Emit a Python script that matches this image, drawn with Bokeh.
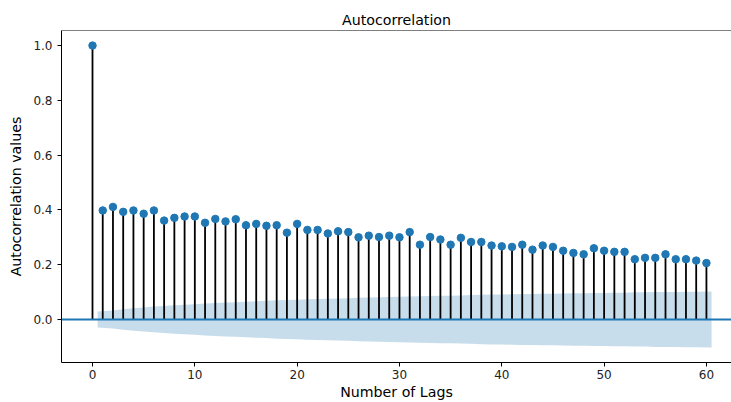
from bokeh.plotting import figure
from bokeh.models import Range1d, FixedTicker, Span, ColumnDataSource, PrintfTickFormatter
from bokeh.embed import file_html
from bokeh.resources import INLINE

# ---- data ----
lags = list(range(0, 61))
acf_values = [
    1.000, 0.398, 0.411, 0.393, 0.398, 0.386, 0.398, 0.361, 0.371, 0.376,
    0.376, 0.353, 0.367, 0.358, 0.366, 0.344, 0.349, 0.342, 0.344, 0.317,
    0.349, 0.327, 0.327, 0.314, 0.322, 0.319, 0.300, 0.306, 0.301, 0.306,
    0.300, 0.319, 0.273, 0.301, 0.292, 0.273, 0.298, 0.283, 0.283, 0.270,
    0.267, 0.265, 0.273, 0.255, 0.270, 0.265, 0.251, 0.243, 0.238, 0.260,
    0.251, 0.247, 0.247, 0.220, 0.225, 0.225, 0.238, 0.220, 0.220, 0.215,
    0.206,
]
# half-width of the confidence band for lags 1..60
conf_halfwidth = [
    0.029, 0.033, 0.037, 0.041, 0.044, 0.047, 0.049, 0.052, 0.054, 0.056,
    0.058, 0.060, 0.062, 0.063, 0.065, 0.067, 0.068, 0.070, 0.071, 0.072,
    0.074, 0.075, 0.076, 0.077, 0.078, 0.079, 0.080, 0.081, 0.082, 0.083,
    0.084, 0.085, 0.086, 0.087, 0.087, 0.088, 0.089, 0.090, 0.091, 0.091,
    0.092, 0.093, 0.093, 0.094, 0.094, 0.095, 0.096, 0.096, 0.097, 0.097,
    0.098, 0.098, 0.099, 0.099, 0.100, 0.100, 0.100, 0.101, 0.101, 0.102,
]
x_ticks = [0, 10, 20, 30, 40, 50, 60]
y_ticks = [0.0, 0.2, 0.4, 0.6, 0.8, 1.0]

title_text = "Autocorrelation"
x_label = "Number of Lags"
y_label = "Autocorrelation values"

# ---- styling ----
BLUE = "#1f77b4"
FONT = "DejaVu Sans"
Y_START, Y_END = -0.157, 1.055
X_START, X_END = -3.03, 62.45

band_x = [float(v) for v in lags[1:]]
band_x[0] -= 0.5
band_x[-1] += 0.5
band_src = ColumnDataSource(dict(
    x=band_x,
    lo=[-v for v in conf_halfwidth],
    hi=list(conf_halfwidth),
))
stem_src = ColumnDataSource(dict(x=lags, y0=[0.0] * len(lags), y=acf_values))

p = figure(width=731, height=402, output_backend="svg", toolbar_location=None,
           x_range=Range1d(X_START, X_END), y_range=Range1d(Y_START, Y_END),
           min_border_left=61, min_border_right=0, min_border_top=30,
           min_border_bottom=40)

p.title.text = title_text
p.title.align = "center"
p.title.text_font = FONT
p.title.text_font_size = "14.2px"
p.title.text_font_style = "normal"
p.title.text_color = "black"
p.title.standoff = 6

p.outline_line_color = None
p.xgrid.grid_line_color = None
p.ygrid.grid_line_color = None
p.background_fill_color = "white"
p.border_fill_color = "white"

p.varea(x="x", y1="lo", y2="hi", source=band_src, fill_color=BLUE, fill_alpha=0.25)
p.segment(x0="x", y0="y0", x1="x", y1="y", source=stem_src,
          line_color="black", line_width=1.8)
p.add_layout(Span(location=0, dimension="width", line_color=BLUE, line_width=1.8))
p.scatter(x="x", y="y", source=stem_src, size=7.5, fill_color=BLUE,
          line_color=BLUE, marker="circle")

# top spine
p.add_layout(Span(location=Y_END, dimension="width", line_color="black", line_width=1))

for ax in (p.xaxis[0], p.yaxis[0]):
    ax.axis_line_color = "black"
    ax.axis_line_width = 1
    ax.major_tick_in = 0
    ax.major_tick_out = 4
    ax.minor_tick_in = 0
    ax.minor_tick_out = 0
    ax.major_tick_line_color = "black"
    ax.major_label_text_font = FONT
    ax.major_label_text_font_size = "12px"
    ax.major_label_text_color = "#222222"
    ax.axis_label_text_font = FONT
    ax.axis_label_text_font_size = "14.2px"
    ax.axis_label_text_font_style = "normal"
    ax.axis_label_text_color = "black"

p.xaxis.ticker = FixedTicker(ticks=x_ticks)
p.yaxis.ticker = FixedTicker(ticks=y_ticks)
p.yaxis.formatter = PrintfTickFormatter(format="%.1f")
p.xaxis.axis_label = x_label
p.yaxis.axis_label = y_label
p.xaxis.major_label_standoff = 3
p.yaxis.major_label_standoff = 5
p.xaxis.axis_label_standoff = 2
p.yaxis.axis_label_standoff = 6

open("out.html", "w").write(file_html(p, INLINE))
